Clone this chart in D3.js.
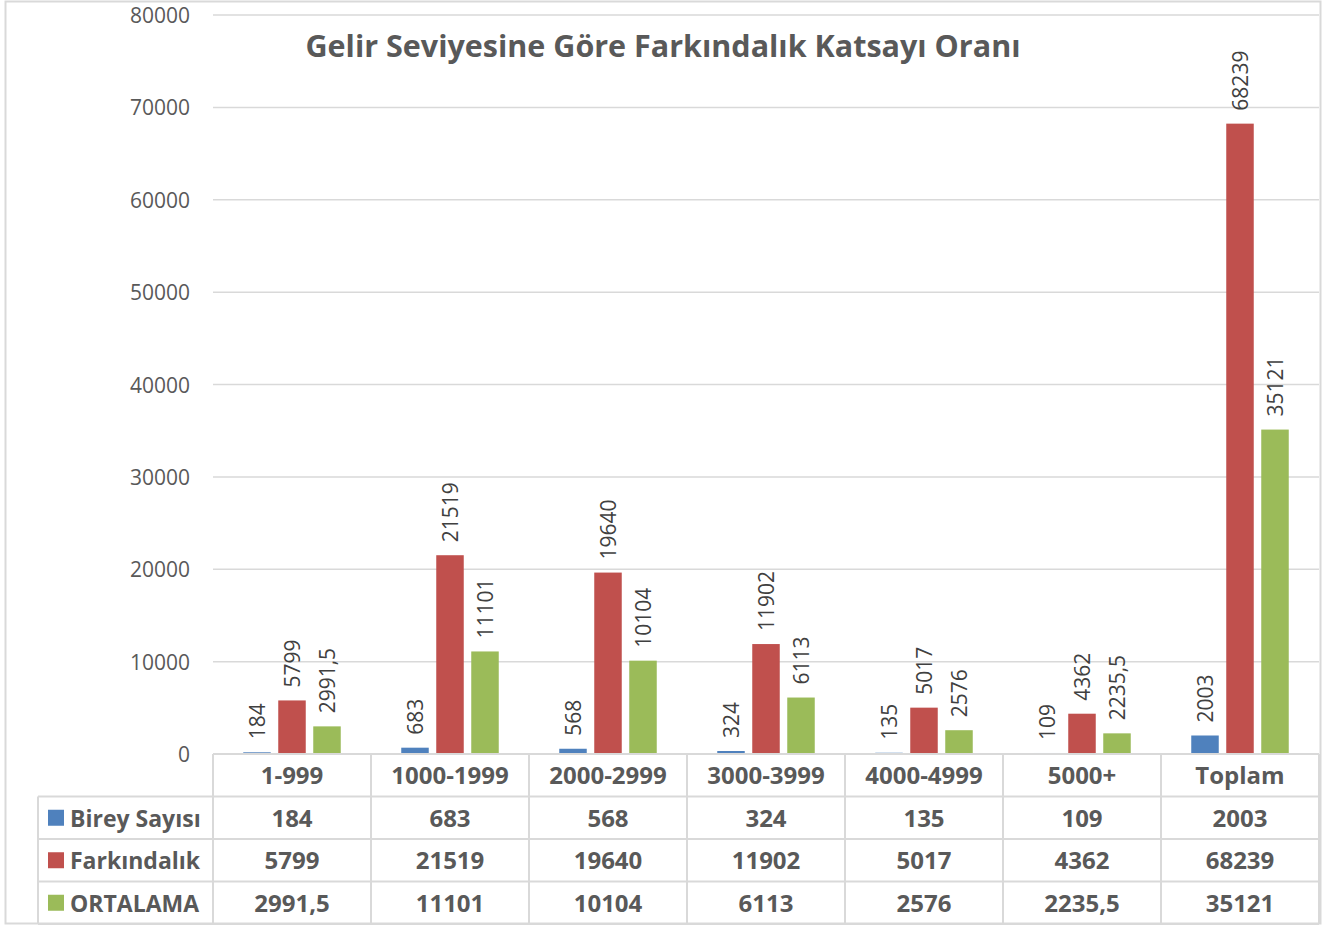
<!DOCTYPE html>
<html>
<head>
<meta charset="utf-8">
<script src="https://cdn.jsdelivr.net/npm/d3@7"></script>
<style>
  body { margin: 0; background: #fff; }
  svg { font-family: "Open Sans", "DejaVu Sans", sans-serif; }
</style>
</head>
<body>
<div id="chart"></div>
<script>
// veriler
const categories = ['1-999', '1000-1999', '2000-2999', '3000-3999', '4000-4999', '5000+', 'Toplam'];
const seriesNames = ['Birey Sayısı', 'Farkındalık', 'ORTALAMA'];
const birey = [184, 683, 568, 324, 135, 109, 2003];
const farkindalik = [5799, 21519, 19640, 11902, 5017, 4362, 68239];
const ortalama = [2991.5, 11101, 10104, 6113, 2576, 2235.5, 35121];
const yTicks = [0, 10000, 20000, 30000, 40000, 50000, 60000, 70000, 80000];
const colors = ['#4f81bd', '#c0504d', '#9bbb59'];

const seriesValues = [birey, farkindalik, ortalama];
const fmt = v => String(v).replace('.', ',');

const width = 1326, height = 925;
const plotLeft = 213, plotRight = 1319, plotTop = 15, plotBottom = 754;
const rowH = 42.5;

const svg = d3.select('#chart').append('svg')
  .attr('width', width).attr('height', height);

svg.append('rect').attr('x', 5.5).attr('y', 1.5).attr('width', 1315).attr('height', 922)
  .attr('fill', '#fff').attr('stroke', '#d9d9d9').attr('stroke-width', 2);

const x = d3.scaleBand().domain(categories).range([plotLeft, plotRight]);
const y = d3.scaleLinear().domain([0, 80000]).range([plotBottom, plotTop]);

// grid
svg.append('g').selectAll('line').data(yTicks).enter().append('line')
  .attr('x1', plotLeft).attr('x2', plotRight)
  .attr('y1', d => y(d)).attr('y2', d => y(d))
  .attr('stroke', '#d9d9d9').attr('stroke-width', 1.5);

svg.append('g').selectAll('text').data(yTicks).enter().append('text')
  .attr('x', 190).attr('y', d => y(d) + 8)
  .attr('text-anchor', 'end').attr('font-size', 21).attr('fill', '#595959')
  .text(d => d);

// bars
const barW = 27.5, step = 35;
seriesValues.forEach((vals, s) => {
  const g = svg.append('g');
  const cx = c => x(c) + x.bandwidth() / 2 + (s - 1) * step;
  g.selectAll('rect').data(categories).enter().append('rect')
    .attr('x', c => cx(c) - barW / 2)
    .attr('y', (c, i) => y(vals[i]))
    .attr('width', barW)
    .attr('height', (c, i) => plotBottom - y(vals[i]))
    .attr('fill', colors[s]);
  g.selectAll('text').data(categories).enter().append('text')
    .attr('transform', (c, i) => `translate(${cx(c) + 7.5},${y(vals[i]) - 13}) rotate(-90)`)
    .attr('font-size', 21).attr('fill', '#404040')
    .text((c, i) => fmt(vals[i]));
});

// title
svg.append('text').attr('x', 663).attr('y', 57).attr('text-anchor', 'middle')
  .attr('font-size', 30.5).attr('font-weight', 'bold').attr('fill', '#595959')
  .text('Gelir Seviyesine Göre Farkındalık Katsayı Oranı');

// data table
const tbl = svg.append('g');
const lineCol = '#d9d9d9';
[0, 1, 2, 3, 4].forEach(r => {
  tbl.append('line')
    .attr('x1', r === 0 ? plotLeft : 38).attr('x2', plotRight)
    .attr('y1', plotBottom + r * rowH).attr('y2', plotBottom + r * rowH)
    .attr('stroke', lineCol).attr('stroke-width', 2);
});
categories.concat(['end']).forEach((c, i) => {
  const xx = plotLeft + i * x.bandwidth();
  tbl.append('line').attr('x1', xx).attr('x2', xx)
    .attr('y1', plotBottom).attr('y2', plotBottom + 4 * rowH)
    .attr('stroke', lineCol).attr('stroke-width', 2);
});
tbl.append('line').attr('x1', 38).attr('x2', 38)
  .attr('y1', plotBottom + rowH).attr('y2', plotBottom + 4 * rowH)
  .attr('stroke', lineCol).attr('stroke-width', 2);

tbl.selectAll('text.cat').data(categories).enter().append('text')
  .attr('x', c => x(c) + x.bandwidth() / 2).attr('y', plotBottom + rowH / 2 + 9)
  .attr('text-anchor', 'middle').attr('font-size', 24).attr('font-weight', 'bold')
  .attr('fill', '#595959').text(c => c);

seriesValues.forEach((vals, s) => {
  const yy = plotBottom + (s + 1) * rowH + rowH / 2 + 9;
  tbl.append('rect').attr('x', 48).attr('y', yy - 17).attr('width', 16).attr('height', 16)
    .attr('fill', colors[s]);
  tbl.append('text').attr('x', 70).attr('y', yy)
    .attr('font-size', 23).attr('font-weight', 'bold').attr('fill', '#595959')
    .text(seriesNames[s]);
  tbl.selectAll('text.v' + s).data(categories).enter().append('text')
    .attr('x', c => x(c) + x.bandwidth() / 2).attr('y', yy)
    .attr('text-anchor', 'middle').attr('font-size', 24).attr('font-weight', 'bold')
    .attr('fill', '#595959').text((c, i) => fmt(vals[i]));
});
</script>
</body>
</html>
